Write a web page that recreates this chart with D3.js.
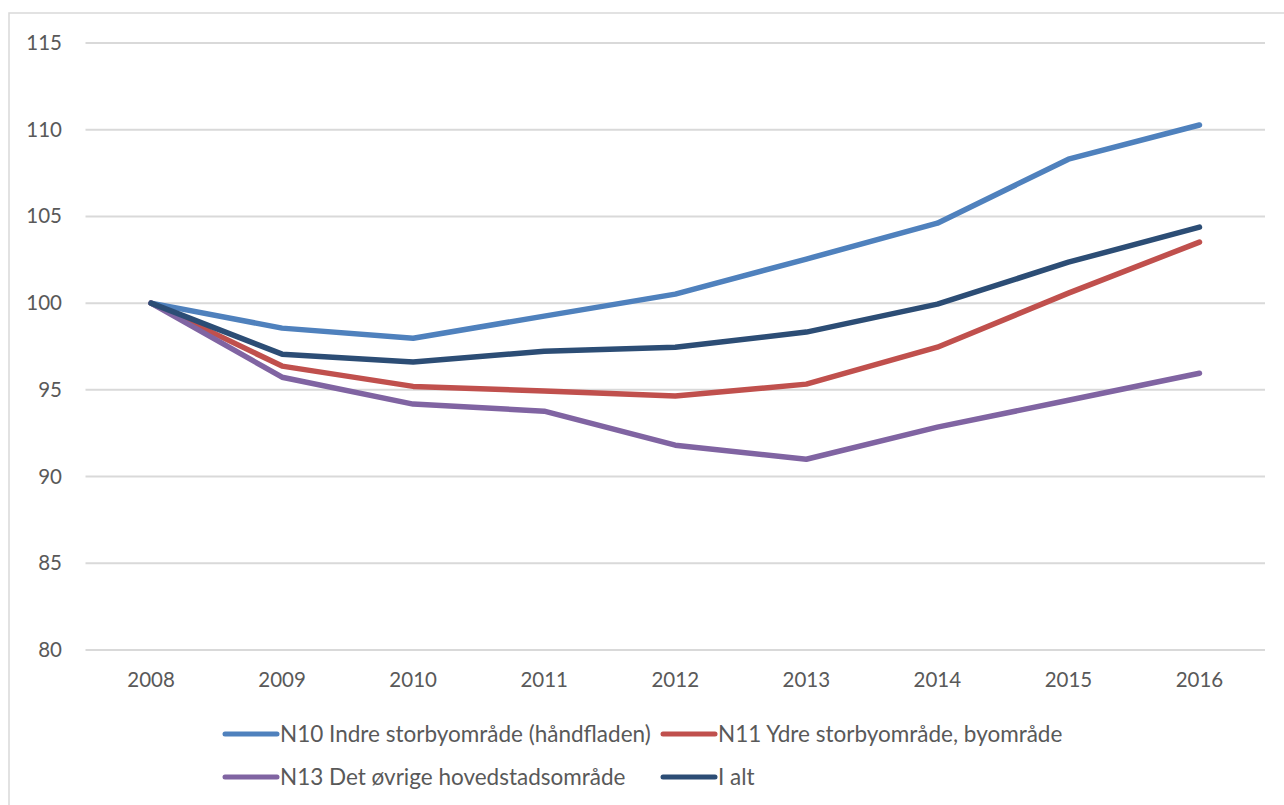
<!DOCTYPE html>
<html>
<head>
<meta charset="utf-8">
<script src="https://cdn.jsdelivr.net/npm/d3@7"></script>
<style>
  body { margin: 0; background: #fff; }
  svg text { font-family: Lato, "Open Sans", sans-serif; fill: #595959; }
</style>
</head>
<body>
<div id="chartArea"></div>
<script>
// data
const years = ["2008", "2009", "2010", "2011", "2012", "2013", "2014", "2015", "2016"];
const n10 = [100, 98.56, 97.98, 99.25, 100.52, 102.54, 104.61, 108.3, 110.27];
const n11 = [100, 96.37, 95.2, 94.93, 94.64, 95.33, 97.46, 100.58, 103.52];
const n13 = [100, 95.73, 94.18, 93.77, 91.81, 91.0, 92.85, 94.4, 95.96];
const ialt = [100, 97.06, 96.6, 97.23, 97.46, 98.33, 99.94, 102.36, 104.38];
const seriesNames = ["N10 Indre storbyområde (håndfladen)", "N11 Ydre storbyområde, byområde",
  "N13 Det øvrige hovedstadsområde", "I alt"];
const yTicks = [80, 85, 90, 95, 100, 105, 110, 115];

const colors = ["#4f81bd", "#c0504d", "#8064a2", "#2c4d75"];
const series = [n10, n11, n13, ialt];

const W = 1284, H = 805;
const svg = d3.select("#chartArea").append("svg")
  .attr("width", W)
  .attr("height", H);

// chart frame (cut off at right and bottom)
svg.append("rect")
  .attr("x", 9).attr("y", 13)
  .attr("width", W).attr("height", H)
  .attr("fill", "#fff")
  .attr("stroke", "#d9d9d9")
  .attr("stroke-width", 1.5);

const x = d3.scaleBand().domain(years).range([85.5, 1265]);
const y = d3.scaleLinear().domain([80, 115]).range([650, 43]);

// gridlines
svg.append("g")
  .selectAll("line")
  .data(yTicks)
  .enter()
  .append("line")
  .attr("x1", 85.5).attr("x2", 1265)
  .attr("y1", d => y(d)).attr("y2", d => y(d))
  .attr("stroke", "#d9d9d9")
  .attr("stroke-width", 2);

// y labels
const yAxis = svg.append("g")
  .attr("transform", "translate(62,0)")
  .call(d3.axisLeft(y).tickValues(yTicks).tickSize(0).tickPadding(0));
yAxis.select(".domain").remove();
yAxis.selectAll("text")
  .attr("font-size", 20.5)
  .style("font-family", "Lato, 'Open Sans', sans-serif")
  .attr("fill", "#595959");

// x labels
const xAxis = svg.append("g")
  .attr("transform", "translate(0,672)")
  .call(d3.axisBottom(x).tickSize(0).tickPadding(0));
xAxis.select(".domain").remove();
xAxis.selectAll("text")
  .attr("font-size", 20.5)
  .style("font-family", "Lato, 'Open Sans', sans-serif")
  .attr("fill", "#595959");

// lines
const line = d3.line()
  .x((d, i) => x(years[i]) + x.bandwidth() / 2)
  .y(d => y(d));

svg.append("g")
  .selectAll("path")
  .data(series)
  .enter()
  .append("path")
  .attr("d", d => line(d))
  .attr("fill", "none")
  .attr("stroke", (d, i) => colors[i])
  .attr("stroke-width", 5.5)
  .attr("stroke-linecap", "round")
  .attr("stroke-linejoin", "round");

// legend
const legendPos = [[225, 734], [663, 734], [225, 777], [663, 777]];
const legend = svg.append("g")
  .selectAll("g")
  .data(seriesNames)
  .enter()
  .append("g")
  .attr("transform", (d, i) => "translate(" + legendPos[i][0] + "," + legendPos[i][1] + ")");

legend.append("line")
  .attr("x1", 0).attr("x2", 52)
  .attr("stroke", (d, i) => colors[i])
  .attr("stroke-width", 5)
  .attr("stroke-linecap", "round");

legend.append("text")
  .attr("x", 55)
  .attr("dy", "0.35em")
  .attr("font-size", 22.5)
  .text(d => d);
</script>
</body>
</html>
